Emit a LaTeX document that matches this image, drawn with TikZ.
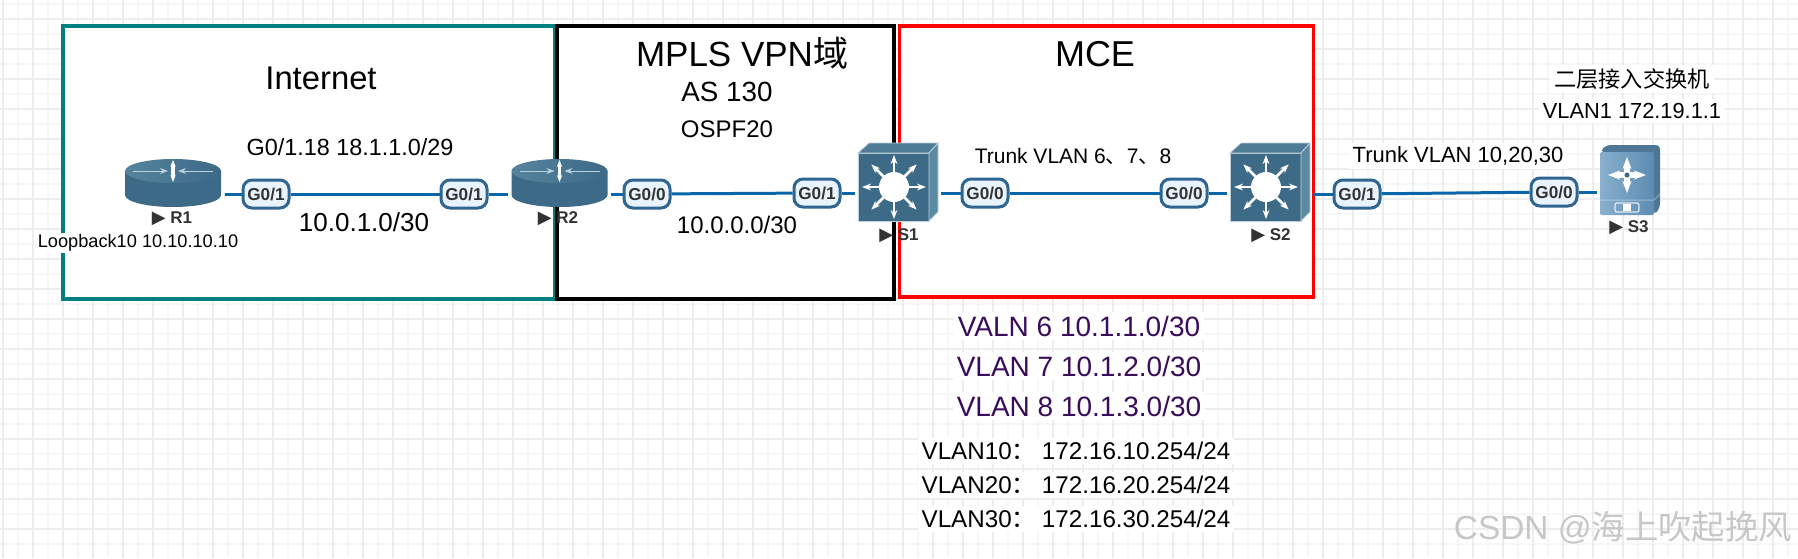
\documentclass[tikz,border=0pt]{standalone}
\usepackage{fontspec}
\setmainfont{Liberation Sans}
\newfontfamily\cjk{Noto Sans CJK SC}
\newfontfamily\symb{DejaVu Sans}
\usepackage{tikz}
\usetikzlibrary{positioning,arrows.meta}
\usepackage{xcolor}

\definecolor{teal2}{RGB}{0,128,128}
\definecolor{linkblue}{RGB}{10,102,168}
\definecolor{portedge}{RGB}{47,101,144}
\definecolor{portfill}{RGB}{232,243,253}
\definecolor{devfront}{RGB}{60,106,135}
\definecolor{devtop}{RGB}{78,124,150}
\definecolor{devside}{RGB}{92,138,163}
\definecolor{devedge}{RGB}{186,208,220}
\definecolor{accessl}{RGB}{136,175,205}
\definecolor{accessr}{RGB}{92,140,178}
\definecolor{vlanpurple}{RGB}{58,12,90}
\newcommand{\pxf}[1]{\fontsize{#1}{#1}\selectfont}
\pgfdeclarelayer{back}
\pgfdeclarelayer{wires}
\pgfsetlayers{back,wires,main}

\tikzset{
    routericon/.pic={
        \fill[devfront] (-48,-12) -- (-48,12) arc[start angle=180,end angle=0,x radius=48,y radius=12] -- (48,-12) -- cycle;
        \shade[left color=devside!80!devfront, right color=devfront] (0,-12) ellipse [x radius=48,y radius=12];
        \draw[devedge, line width=0.5pt, -{Stealth[length=4pt]}] (-40,-12) -- (-5,-12);
        \draw[devedge, line width=0.5pt, -{Stealth[length=4pt]}] (40,-12) -- (5,-12);
        \draw[white, line width=1.8pt, {Stealth[length=3.5pt]}-{Stealth[length=3.5pt]}] (0,-23) -- (0,-1);
    },
    switchicon/.pic={
        \fill[devfront, draw=devedge, line width=0.4pt] (-40,-29) rectangle (31,39);
        \fill[devtop, draw=devedge, line width=0.4pt] (-40,-29) -- (-29,-39) -- (40,-39) -- (31,-29) -- cycle;
        \fill[devside, draw=devedge, line width=0.4pt] (31,-29) -- (40,-39) -- (40,30) -- (31,39) -- cycle;
        \fill[white] (-4,5) circle [radius=15];
        \foreach \a in {0,45,...,315}
            \draw[white, line width=1.3pt, -{Stealth[length=4.5pt]}] (-4,5) ++(\a:14) -- ++(\a:18);
    },
    accessicon/.pic={
        \fill[accessr!85!black, rounded corners=2pt] (-24,-35) -- (30,-35) -- (30,28) -- (24,35) -- (24,-28) -- (-30,-28) -- cycle;
        \shade[left color=accessl, right color=accessr, rounded corners=1pt] (-30,-28) rectangle (24,35);
        \draw[white, opacity=0.35, line width=0.5pt] (-30,20) -- (24,20) -- (30,14);
        \draw[white, line width=3pt, {Stealth[length=6pt]}-{Stealth[length=6pt]}] (-22,-5) -- (16,-5);
        \draw[white, line width=3pt, {Stealth[length=6pt]}-{Stealth[length=6pt]}] (-3,-23) -- (-3,13);
        \fill[devfront] (-3,-5) circle [radius=2.5];
        \draw[white, opacity=0.8, line width=0.6pt, rounded corners=1pt] (-15,23) rectangle (9,32);
        \fill[white] (-7,24) rectangle (1,31);
    },
}

\begin{document}
\begin{tikzpicture}[
    x=0.5pt, y=-0.5pt,
    zone/.style={draw, line width=1.9pt, fill=white, outer sep=0pt, inner sep=0pt},
    dev/.style={inner sep=0pt, outer sep=1.5pt},
    devlabel/.style={font=\pxf{8.5}\bfseries, text=black!80, inner sep=0pt},
    port/.style={draw=portedge, line width=1.5pt, fill=portfill, rounded corners=4.5pt, minimum width=23pt, minimum height=14pt, inner sep=0pt, font=\pxf{8.6}\bfseries, text=black!80},
    link/.style={draw=linkblue, line width=1.5pt},
    plain/.style={inner sep=1pt},
    bgtext/.style={fill=white, inner sep=2pt}
]
\useasboundingbox (0,0) rectangle (1798,558);
\begin{pgfonlayer}{back}
\fill[white] (0,0) rectangle (1798,558);
% grid
\foreach \x in {18,48,...,1798}
    \draw[black!3, line width=0.7pt] (\x,0) -- (\x,558);
\foreach \y in {4,34,...,558}
    \draw[black!3, line width=0.7pt] (0,\y) -- (1798,\y);
\foreach \x in {3,33,...,1798}
    \draw[black!7, line width=0.7pt] (\x,0) -- (\x,558);
\foreach \y in {19,49,...,558}
    \draw[black!7, line width=0.7pt] (0,\y) -- (1798,\y);

% zones
\node[zone, draw=teal2, minimum width=246pt, minimum height=136.5pt] (inet) at (309,162.5) {};
\node[zone, draw=black, minimum width=168.5pt, minimum height=136.5pt] (mpls) at (725.5,162.5) {};
\node[zone, draw=red, minimum width=207pt, minimum height=135.5pt] (mce) at (1106.5,161.5) {};
\end{pgfonlayer}

% devices
\node[dev, minimum width=48.5pt, minimum height=24pt] (r1) at (173,183) {};
\node[dev, minimum width=48.5pt, minimum height=24pt] (r2) at (559.5,183) {};
\node[dev, minimum width=40pt, minimum height=39pt] (s1) at (898,182) {};
\node[dev, minimum width=40pt, minimum height=39pt] (s2) at (1270,182) {};
\node[dev, minimum width=30pt, minimum height=35pt] (s3) at (1630,180) {};
\pic at (r1) {routericon};
\pic at (r2) {routericon};
\pic at (s1) {switchicon};
\pic at (s2) {switchicon};
\pic at (s3) {accessicon};

% ports
\node[port] (r1g) at (266,194) {G0/1};
\node[port] (r2a) at (464,194) {G0/1};
\node[port] (r2b) at (647,194) {G0/0};
\node[port] (s1a) at (817,193) {G0/1};
\node[port] (s1b) at (985,193) {G0/0};
\node[port] (s2a) at (1184,193) {G0/0};
\node[port] (s2b) at (1357,194) {G0/1};
\node[port] (s3a) at (1554,192) {G0/0};

% links
\begin{pgfonlayer}{wires}
\draw[link] (r1g -| r1.east) -- (r1g);
\draw[link] (r1g) -- (r2a);
\draw[link] (r2a) -- (r2a -| r2.west);
\draw[link] (r2b -| r2.east) -- (r2b);
\draw[link] (r2b) -- (s1a);
\draw[link] (s1a) -- (s1a -| s1.west);
\draw[link] (s1b -| s1.east) -- (s1b);
\draw[link] (s1b) -- (s2a);
\draw[link] (s2a) -- (s2a -| s2.west);
\draw[link] (s2b -| s2.east) -- (s2b);
\draw[link] (s2b) -- (s3a);
\draw[link] (s3a) -- (s3a -| s3.west);
\end{pgfonlayer}

\node[devlabel] (r1l) at (172,219) {{\symb\mdseries\pxf{9}▶} R1};
\node[devlabel] (r2l) at (558,219) {{\symb\mdseries\pxf{9}▶} R2};
\node[devlabel] (s1l) at (899,236) {{\symb\mdseries\pxf{9}▶} S1};
\node[devlabel] (s2l) at (1271,236) {{\symb\mdseries\pxf{9}▶} S2};
\node[devlabel] (s3l) at (1629,228) {{\symb\mdseries\pxf{9}▶} S3};

% zone texts
\node[plain, font=\pxf{16.4}] (inettitle) at (321,78) {Internet};
\node[plain, font=\pxf{11.7}] (subif) at (350,147) {G0/1.18 18.1.1.0/29};
\node[plain, font=\pxf{13}] (net1) at (364,222) {10.0.1.0/30};
\node[bgtext, inner sep=1pt, font=\pxf{9.1}] (loop) at (138,243) {Loopback10 10.10.10.10};
\node[plain, font=\pxf{17.5}] (mplstitle) at (742,53) {MPLS VPN{\cjk 域}};
\node[plain, font=\pxf{13.9}] (as) at (727,92) {AS 130};
\node[plain, font=\pxf{12}] (ospf) at (727,129) {OSPF20};
\node[plain, font=\pxf{12}] (net0) at (737,225) {10.0.0.0/30};
\node[plain, font=\pxf{18}] (mcetitle) at (1095,54) {MCE};
\node[plain, font=\pxf{10.5}] (trunk1) at (1073,156) {Trunk VLAN 6{\cjk 、}7{\cjk 、}8};
\node[bgtext, font=\pxf{11}] (trunk2) at (1458,156) {Trunk VLAN 10,20,30};
\node[bgtext, font=\pxf{11.1}] (l2a) at (1632,79) {\cjk 二层接入交换机};
\node[bgtext, font=\pxf{10.9}] (l2b) at (1632,111) {VLAN1 172.19.1.1};

% vlan lists
\node[bgtext, text=vlanpurple, font=\pxf{14}] (v6) at (1079,326) {VALN 6 10.1.1.0/30};
\node[bgtext, text=vlanpurple, font=\pxf{14}] (v7) at (1079,366) {VLAN 7 10.1.2.0/30};
\node[bgtext, text=vlanpurple, font=\pxf{14}] (v8) at (1079,406) {VLAN 8 10.1.3.0/30};
\node[bgtext, font=\pxf{12.1}] (v10) at (1076,451) {VLAN10{\cjk ：}\hspace{3pt}172.16.10.254/24};
\node[bgtext, font=\pxf{12.1}] (v20) at (1076,485) {VLAN20{\cjk ：}\hspace{3pt}172.16.20.254/24};
\node[bgtext, font=\pxf{12.1}] (v30) at (1076,519) {VLAN30{\cjk ：}\hspace{3pt}172.16.30.254/24};

\node[plain, text=black!22, font=\pxf{16.7}] (mark) at (1623,528) {CSDN @{\cjk 海上吹起挽风}};
\end{tikzpicture}
\end{document}
